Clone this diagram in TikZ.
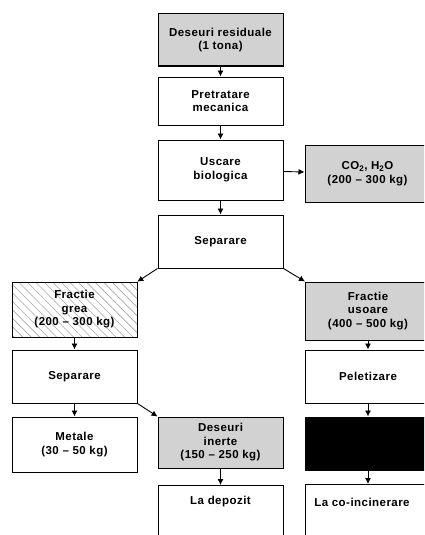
\documentclass[tikz,border=0pt]{standalone}
\usepackage{fontspec}
\setmainfont{Liberation Sans}[LetterSpace=4]
\usetikzlibrary{arrows.meta,patterns.meta}
\tikzset{
  box/.style={draw, line width=1pt, minimum width=125pt, align=center, inner sep=0pt,
    font=\bfseries\fontsize{11.5}{13.5}\selectfont},
  dotbox/.style={box, fill=gray!35},
  hatchbox/.style={box, pattern={Lines[angle=-45,distance=6pt,line width=0.6pt]}, pattern color=gray!70},
  darkbox/.style={box, fill=black},
  boxtext/.style={font=\bfseries\fontsize{11.5}{13.5}\selectfont},
  flow/.style={-{Latex[length=6pt,width=6pt]}, line width=0.9pt}
}
\begin{document}
\begin{tikzpicture}[x=1pt,y=-1pt]
\useasboundingbox (0,0) rectangle (424,535);
\clip (0,0) rectangle (424,535);
% middle column
\node[dotbox, minimum height=52] (res) at (220.5,40) {Deseuri residuale\\(1 tona)};
\node[box, minimum height=48] (pre) at (220.5,101) {Pretratare\\mecanica};
\node[box, minimum height=60] (usc) at (220.5,170) {Uscare\\biologica};
\node[dotbox, minimum height=57] (co2) at (367.5,173.5) {CO\textsubscript{2}, H\textsubscript{2}O\\(200 -- 300 kg)};
\node[box, minimum height=53] (sep) at (220.5,241.5) {Separare};
% left branch
\node[hatchbox, minimum height=55] (grea) at (74.5,309.5) {Fractie\\grea\\(200 -- 300 kg)};
\node[box, minimum height=53] (sep2) at (74.5,376.5) {Separare};
\node[box, minimum height=55] (met) at (74.5,444.5) {Metale\\(30 -- 50 kg)};
\node[dotbox, minimum height=51] (ine) at (220.5,442.5) {Deseuri\\inerte\\(150 -- 250 kg)};
\node[box, minimum height=70, anchor=north] (dep) at (220.5,485) {};
\node[boxtext] (deptxt) at (220.5,502) {La depozit};
% right branch
\node[dotbox, minimum height=58] (uso) at (368,311) {Fractie\\usoare\\(400 -- 500 kg)};
\node[box, minimum height=53] (pel) at (368,376.5) {Peletizare};
\node[darkbox, minimum height=53] (blk) at (368,443.5) {};
\node[box, minimum height=70, anchor=north] (coi) at (368,484) {};
\node[boxtext] (coitxt) at (362,502) {La co-incinerare};

\draw[flow] (res) -- (pre);
\draw[flow] (pre) -- (usc);
\draw[flow] (usc) -- (co2);
\draw[flow] (usc) -- (sep);
\draw[flow] (sep.south west) -- (grea.north east);
\draw[flow] (sep.south east) -- (uso.north west);
\draw[flow] (grea) -- (sep2);
\draw[flow] (sep2) -- (met);
\draw[flow] (sep2.south east) -- (ine.north west);
\draw[flow] (ine) -- (dep);
\draw[flow] (uso) -- (pel);
\draw[flow] (pel) -- (blk);
\draw[flow] (blk) -- (coi);
\end{tikzpicture}
\end{document}
